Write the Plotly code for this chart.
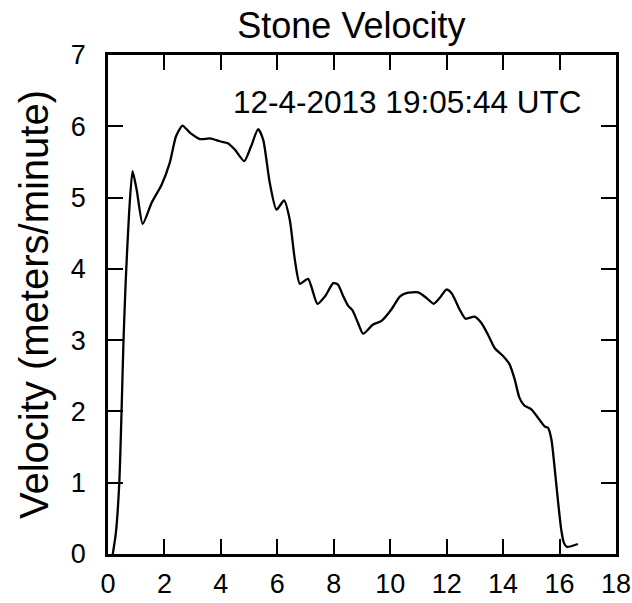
import plotly.graph_objects as go

# Stone velocity trace (time in minutes, velocity in meters/minute)
time_min = [0.17, 0.28, 0.40, 0.48, 0.55, 0.63, 0.75, 0.87, 1.02, 1.23, 1.55, 1.90, 2.19,
            2.41, 2.64, 2.90, 3.26, 3.61, 3.96, 4.26, 4.50, 4.83, 5.07, 5.32, 5.50,
            5.73, 5.97, 6.24, 6.44, 6.62, 6.80, 7.09, 7.42, 7.70, 7.98, 8.15, 8.33,
            8.51, 8.66, 8.86, 9.04, 9.39, 9.69, 10.04, 10.34, 10.57, 10.99, 11.29,
            11.54, 11.75, 11.99, 12.17, 12.46, 12.67, 12.99, 13.23, 13.46, 13.70,
            13.99, 14.23, 14.41, 14.58, 14.76, 15.00, 15.24, 15.47, 15.59, 15.71,
            15.82, 15.94, 16.06, 16.15, 16.26, 16.65]
velocity = [0.00, 0.30, 1.00, 2.00, 3.00, 3.85, 4.80, 5.37, 5.10, 4.63, 4.93, 5.18, 5.49,
            5.86, 6.01, 5.91, 5.82, 5.83, 5.79, 5.76, 5.67, 5.51, 5.72, 5.96, 5.81,
            5.21, 4.83, 4.96, 4.69, 4.13, 3.79, 3.86, 3.51, 3.62, 3.80, 3.78, 3.62,
            3.48, 3.42, 3.24, 3.09, 3.22, 3.27, 3.43, 3.61, 3.66, 3.67, 3.59,
            3.51, 3.59, 3.71, 3.66, 3.43, 3.30, 3.33, 3.24, 3.08, 2.89,
            2.78, 2.66, 2.45, 2.19, 2.08, 2.03, 1.91, 1.79, 1.77, 1.61,
            1.23, 0.76, 0.34, 0.16, 0.10, 0.14]

x_ticks = [0, 2, 4, 6, 8, 10, 12, 14, 16, 18]
y_ticks = [0, 1, 2, 3, 4, 5, 6, 7]

font_family = "Liberation Sans, Arial, sans-serif"

fig = go.Figure()
fig.add_trace(go.Scatter(
    x=time_min, y=velocity, mode="lines",
    line=dict(color="black", width=2.3, shape="spline", smoothing=0.6),
    showlegend=False, hoverinfo="skip",
))

axis_common = dict(
    showline=True, linecolor="black", linewidth=2.5, mirror="ticks",
    ticks="inside", ticklen=15, tickwidth=2, tickcolor="black",
    showgrid=False, zeroline=False, automargin=False,
    tickfont=dict(family=font_family, size=27, color="black"),
)

fig.update_layout(
    width=632, height=603,
    margin=dict(l=108, r=16, t=55, b=49),
    paper_bgcolor="white", plot_bgcolor="white",
    font=dict(family=font_family, color="black"),
    title=dict(text="Stone Velocity", x=0.556, xanchor="center", y=0.958, yanchor="middle",
               font=dict(family=font_family, size=36, color="black")),
    xaxis=dict(range=[0, 18], tickvals=x_ticks, ticklabelstandoff=4, **axis_common),
    yaxis=dict(range=[0, 7], tickvals=y_ticks, ticklabelstandoff=14,
               title=dict(text="Velocity (meters/minute)", standoff=10,
                          font=dict(family=font_family, size=40, color="black")),
               **axis_common),
    annotations=[dict(
        text="12-4-2013 19:05:44 UTC", xref="paper", yref="paper",
        x=0.935, y=0.905, xanchor="right", yanchor="middle", showarrow=False,
        font=dict(family=font_family, size=31.5, color="black"),
    )],
)

fig.write_html("out.html")
